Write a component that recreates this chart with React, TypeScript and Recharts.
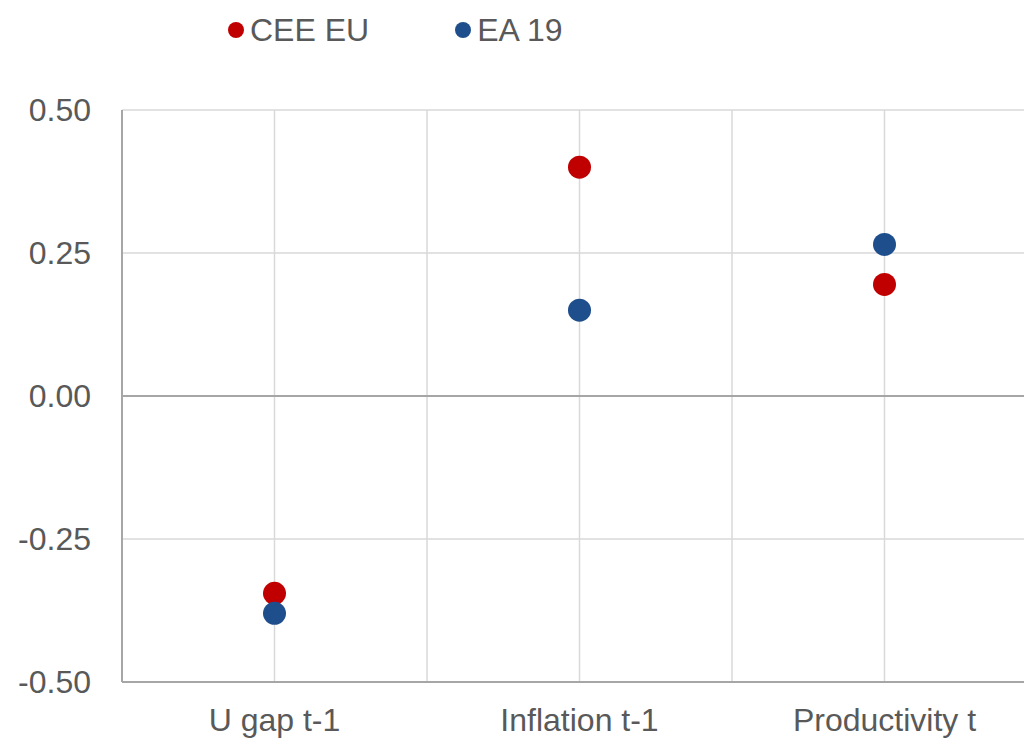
import {
  ComposedChart,
  Scatter,
  XAxis,
  YAxis,
  CartesianGrid,
  ReferenceLine,
} from "recharts";

const categories = ["U gap t-1", "Inflation t-1", "Productivity t"];
const ceeEu = [-0.345, 0.4, 0.195];
const ea19 = [-0.38, 0.15, 0.265];
const yTicks = [-0.5, -0.25, 0, 0.25, 0.5];

const series = [
  { key: "cee", name: "CEE EU", color: "#C00000" },
  { key: "ea", name: "EA 19", color: "#1F4E8C" },
];

const data = categories.map((name, i) => ({ name, cee: ceeEu[i], ea: ea19[i] }));

const FONT = '"Liberation Sans", Arial, sans-serif';
const TEXT = "#595959";
const GRID = "#D9D9D9";
const AXIS = "#A6A6A6";

// gridlines at every category edge and centre
const verticalLines = ({ offset }: any) => {
  const lines: number[] = [];
  const steps = categories.length * 2;
  for (let i = 0; i <= steps; i++) lines.push(offset.left + (offset.width * i) / steps);
  return lines;
};

const dot = (color: string) => (props: any) =>
  <circle cx={props.cx} cy={props.cy} r={11.5} fill={color} />;

export default function App() {
  return (
    <div
      style={{
        position: "absolute",
        left: 0,
        top: 0,
        width: 1024,
        height: 741,
        overflow: "hidden",
        background: "#fff",
        fontFamily: FONT,
      }}
    >
      <div
        style={{
          position: "absolute",
          left: 228,
          top: 12,
          display: "flex",
          gap: 86,
          fontSize: 32,
          lineHeight: "36px",
          color: TEXT,
        }}
      >
        {series.map((s) => (
          <div key={s.key} style={{ display: "flex", alignItems: "center" }}>
            <span
              style={{
                width: 16,
                height: 16,
                borderRadius: "50%",
                background: s.color,
                marginRight: 6,
              }}
            />
            <span>{s.name}</span>
          </div>
        ))}
      </div>
      <ComposedChart
        width={1040}
        height={741}
        data={data}
        margin={{ top: 110, right: 3, bottom: 0, left: 0 }}
      >
        <CartesianGrid
          stroke={GRID}
          strokeWidth={1.5}
          verticalCoordinatesGenerator={verticalLines}
        />
        <XAxis
          dataKey="name"
          scale="band"
          height={59}
          tickLine={false}
          tickSize={0}
          tickMargin={26}
          axisLine={{ stroke: AXIS, strokeWidth: 2 }}
          tick={{ fontSize: 32, fill: TEXT, fontFamily: FONT }}
        />
        <YAxis
          type="number"
          domain={[-0.5, 0.5]}
          ticks={yTicks}
          width={122}
          tickLine={false}
          tickSize={0}
          tickMargin={31}
          axisLine={{ stroke: AXIS, strokeWidth: 2 }}
          tickFormatter={(v: number) => v.toFixed(2)}
          tick={{ fontSize: 32, fill: TEXT, fontFamily: FONT }}
        />
        <ReferenceLine y={0} stroke={AXIS} strokeWidth={2} />
        {series.map((s) => (
          <Scatter
            key={s.key}
            name={s.name}
            dataKey={s.key}
            fill={s.color}
            shape={dot(s.color)}
            isAnimationActive={false}
          />
        ))}
      </ComposedChart>
    </div>
  );
}
